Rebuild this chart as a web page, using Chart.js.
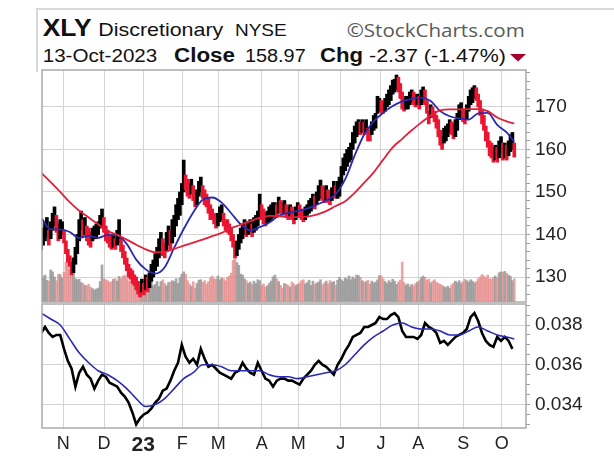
<!DOCTYPE html>
<html><head><meta charset="utf-8">
<script src="https://cdn.jsdelivr.net/npm/chart.js@4.4.0/dist/chart.umd.min.js"></script>
<style>
html,body{margin:0;padding:0;background:#fff;}
#wrap{position:relative;width:614px;height:457px;overflow:hidden;background:#fff;}
#wrap canvas,#wrap svg{position:absolute;left:0;}
svg text{font-family:"Liberation Sans",Arial,sans-serif;fill:#111;font-style:normal;}
</style></head><body>
<div id="wrap">
<svg width="614" height="457" style="top:0">
  <rect x="37" y="8" width="577" height="2" fill="#d9d9d9"/>
  <rect x="36" y="8" width="2" height="64" fill="#d9d9d9"/>
  <text x="42.7" y="35.7" font-weight="bold" font-size="23" textLength="49" lengthAdjust="spacingAndGlyphs">XLY</text>
  <text x="98.3" y="35.7" font-size="18.5" textLength="125" lengthAdjust="spacingAndGlyphs">Discretionary</text>
  <text x="235" y="35.7" font-size="16.5" textLength="51.7" lengthAdjust="spacingAndGlyphs">NYSE</text>
  <text x="346.7" y="36.7" font-size="18.5" style="font-family:'Open Sans',sans-serif;fill:#5a5a5a" textLength="178" lengthAdjust="spacingAndGlyphs">©StockCharts.com</text>
  <text x="42.7" y="62.3" font-size="18" textLength="114.6" lengthAdjust="spacingAndGlyphs">13-Oct-2023</text>
  <text x="174" y="62.3" font-weight="bold" font-size="20" textLength="61" lengthAdjust="spacingAndGlyphs">Close</text>
  <text x="245" y="62.3" font-size="18" textLength="60.7" lengthAdjust="spacingAndGlyphs">158.97</text>
  <text x="320" y="62.3" font-weight="bold" font-size="20" textLength="43" lengthAdjust="spacingAndGlyphs">Chg</text>
  <text x="369" y="62.3" font-size="18" textLength="137" lengthAdjust="spacingAndGlyphs">-2.37 (-1.47%)</text>
  <polygon points="510,54 526,54 518,61.5" fill="#a3002b"/>
</svg>
<canvas id="top" width="614" height="303" style="top:0"></canvas>
<canvas id="bot" width="614" height="154" style="top:303px"></canvas>
</div>
<script>
// ---- DATA (trading-day index 0 = mid Oct 2022 ... 249 = 13 Oct 2023) ----
const monthTicks = [11.6, 33.1, 53.7, 74.3, 93.2, 116.1, 135.3, 157.6, 178.8, 198.5, 222.2, 242.4];
const monthLabels = ['N','D','23','F','M','A','M','J','J','A','S','O'];
const priceMajor = [130, 140, 150, 160, 170];
const ratioMajor = [0.034, 0.036, 0.038];

const lows = [
136.5,137.5,138.5,139.5,137.5,139.0,141.0,142.0,140.5,138.5,
139.0,140.0,138.0,135.5,133.5,132.5,130.5,131.0,133.0,135.5,
138.5,141.0,139.5,140.0,138.5,137.5,137.0,138.5,139.0,139.0,
140.0,141.5,142.0,140.5,138.5,138.0,137.0,136.5,137.0,136.5,
137.5,138.0,136.0,134.5,133.0,131.5,130.0,129.5,128.5,128.0,
127.0,126.0,125.3,126.5,125.8,127.0,126.5,127.5,129.0,130.0,
131.5,132.5,134.5,135.5,135.0,134.5,136.0,137.5,136.5,138.0,
139.5,142.0,143.5,144.5,147.0,150.0,150.5,149.0,148.5,149.5,
148.0,146.5,147.0,149.0,150.0,148.5,147.0,146.5,145.0,143.5,
143.5,142.5,141.5,142.0,143.0,143.5,142.0,141.0,140.5,140.0,
138.5,137.0,134.5,135.0,136.5,138.0,139.0,140.0,139.5,140.0,
140.5,139.5,140.5,141.0,142.0,144.0,143.5,142.5,142.0,142.5,
143.0,143.5,144.0,144.5,144.0,145.0,145.0,144.5,145.0,144.0,
143.5,144.0,143.5,142.5,143.5,144.5,144.0,143.5,143.0,143.5,
144.5,145.0,145.5,146.5,146.0,147.0,148.0,148.5,148.0,147.5,
148.0,147.5,147.0,148.0,149.0,148.5,148.5,149.0,152.0,154.0,
155.0,156.0,157.0,157.5,160.0,161.5,163.0,163.5,163.5,164.0,
163.5,164.0,162.0,162.0,163.5,164.5,165.0,168.5,169.0,168.5,
168.5,169.0,170.0,170.5,171.5,173.0,173.5,174.0,173.5,172.0,
169.5,169.0,169.5,169.5,170.5,171.0,170.5,170.0,170.5,169.5,
170.5,171.0,170.5,168.5,166.0,167.5,167.5,166.5,165.0,163.0,
161.0,160.0,161.5,162.0,163.0,164.0,163.5,162.5,163.0,164.5,
167.0,167.5,166.5,166.0,167.0,169.0,170.5,171.0,172.0,171.5,
170.0,168.0,166.0,164.5,162.0,160.5,158.5,158.0,157.0,157.5,
157.0,158.0,159.0,157.5,158.0,157.5,158.5,159.5,160.0,158.2];

const highs = [
140.5,141.5,143.0,144.0,141.0,143.0,145.0,146.5,144.5,142.5,
143.5,143.0,141.0,138.5,136.5,135.0,133.5,134.5,137.0,140.0,
143.5,145.5,143.5,144.0,142.0,141.5,140.5,141.5,142.0,142.5,
143.0,144.5,146.0,144.0,142.0,141.0,140.0,139.5,140.0,139.0,
141.0,143.5,139.0,137.5,136.0,134.5,133.0,132.0,131.5,130.5,
130.0,129.0,128.0,129.5,128.5,130.5,130.0,131.0,133.0,134.0,
135.5,137.0,139.0,140.5,139.0,138.0,140.5,142.0,141.0,143.5,
144.5,147.0,148.5,150.0,152.0,157.5,154.0,153.0,152.0,153.0,
151.5,150.0,150.5,152.5,153.5,151.5,150.5,149.5,148.5,147.0,
146.0,145.0,144.5,145.0,146.5,147.0,145.0,143.5,143.5,142.5,
141.5,140.0,138.0,138.5,140.0,141.5,142.5,143.5,143.0,143.0,
143.5,142.5,144.0,144.5,145.5,149.5,147.0,146.0,145.0,145.5,
146.5,147.0,147.5,147.5,147.0,148.8,148.0,147.5,148.0,147.0,
146.5,147.0,146.5,145.5,146.5,147.5,147.0,146.0,145.5,146.5,
147.0,148.0,148.5,149.5,149.0,150.0,151.5,152.8,151.5,151.0,
151.5,150.5,150.0,151.0,152.5,151.5,152.5,153.5,156.0,158.0,
159.0,160.0,160.5,161.5,164.0,165.5,166.5,167.0,166.5,167.0,
166.5,167.0,165.0,164.5,166.5,168.0,168.5,172.5,172.0,171.5,
171.0,172.0,173.0,174.0,175.0,176.3,176.5,177.5,177.0,175.5,
173.5,172.0,172.5,172.5,173.5,174.0,173.5,173.0,173.0,172.5,
174.0,174.7,174.0,171.5,169.0,170.5,170.0,169.0,168.0,167.0,
164.5,163.0,165.0,165.5,166.0,167.0,166.5,166.0,167.0,168.5,
170.5,171.0,169.5,169.0,170.5,172.5,174.0,174.5,175.0,174.5,
173.0,171.5,169.5,168.0,165.5,164.0,162.0,161.5,160.5,161.0,
160.5,162.0,163.0,161.5,161.5,161.0,162.0,163.5,164.0,161.5];

// volume, millions of shares
const volumes = [
5.8,5.4,5.8,4.7,4.5,6.9,6.5,5.4,4.6,6.0,
5.9,5.2,6.4,8.6,8.7,7.0,7.2,6.1,5.0,4.8,
4.9,4.2,4.0,3.6,3.5,3.8,3.2,2.9,2.6,2.8,
3.0,4.4,8.0,5.0,4.8,4.6,4.2,4.4,4.9,5.0,
4.5,5.5,5.0,5.6,5.8,5.2,4.6,4.2,3.8,3.4,
3.0,2.8,2.5,3.0,2.4,3.6,4.0,4.8,4.4,3.5,
3.8,4.4,3.3,4.4,4.8,4.0,3.5,4.2,4.3,4.6,
4.4,5.0,4.0,5.2,6.0,6.5,6.0,4.6,3.9,3.4,
4.4,3.0,4.0,4.7,4.8,4.2,4.6,3.9,4.4,5.2,
5.6,5.0,4.9,5.6,4.8,5.2,5.0,4.6,5.3,5.6,
6.2,9.0,9.7,8.5,7.9,6.0,5.8,5.0,4.6,4.0,
4.3,3.8,4.5,4.0,4.8,4.6,3.6,3.9,3.2,3.5,
4.0,4.5,5.4,5.8,5.0,4.4,3.6,3.0,4.0,3.8,
3.6,3.2,4.3,3.9,3.5,3.8,4.1,4.6,4.8,3.9,
4.2,4.7,3.6,4.5,3.8,4.1,4.3,4.8,3.7,4.1,
4.5,3.9,4.6,4.2,4.4,3.6,4.7,5.3,4.8,4.5,
5.2,4.9,5.6,4.8,5.4,5.0,5.8,5.7,5.3,4.6,
4.2,4.4,4.7,3.9,4.5,4.1,4.3,4.8,5.7,5.6,
5.0,4.4,4.0,4.6,4.2,4.9,4.5,3.8,4.3,4.7,
8.6,4.2,3.6,3.9,3.3,3.8,3.5,4.0,4.3,4.6,
5.2,5.6,5.3,4.7,4.9,4.1,4.5,4.8,4.3,4.0,
3.8,3.6,3.3,3.1,3.4,3.0,3.7,4.1,4.5,4.2,
4.6,4.0,4.4,4.9,4.6,4.3,4.8,4.5,4.1,4.4,
5.0,5.4,5.9,5.6,5.2,5.8,5.0,4.9,5.3,5.6,
5.1,6.3,6.5,6.4,6.6,6.2,5.8,5.5,4.6,5.0];

// moving averages read every 5 trading days (last point = last day)
const priceMA20 = [
143.9,141.2,141.2,140.6,139.2,139.7,139.2,139.9,139.8,137.8,
134.1,131.8,130.8,132.3,136.9,141.3,145.2,148.2,148.7,147.5,
145.0,142.4,141.0,141.7,142.8,144.4,145.1,145.5,146.1,147.0,
148.0,149.5,153.0,158.6,163.5,166.6,168.6,170.2,171.3,171.9,
172.2,171.4,169.0,167.8,167.3,167.0,168.5,168.6,165.8,164.0,
161.8];
const priceMA50 = [
154.5,152.3,150.0,147.6,145.6,144.0,142.4,140.8,139.9,138.8,
137.6,136.5,135.8,135.9,136.6,137.4,138.1,138.8,139.6,140.4,
141.5,142.3,143.1,143.9,144.4,144.3,144.1,144.1,144.2,144.7,
145.5,146.7,147.8,149.8,152.2,154.6,157.6,160.5,162.5,164.5,
166.3,168.0,169.2,169.4,169.4,169.5,169.5,169.0,167.5,166.6,
166.1];

// XLY:SPY ratio, read every 2 trading days
const ratio = [
0.0376,0.0379,0.0376,0.0374,0.0375,0.0375,0.0368,0.0362,0.0358,0.0349,
0.0356,0.0359,0.0355,0.0353,0.0348,0.0352,0.0355,0.0354,0.0351,0.0350,
0.0349,0.0346,0.0344,0.0341,0.0336,0.0330,0.0333,0.0335,0.0336,0.0338,
0.0341,0.0343,0.0347,0.0348,0.0352,0.0357,0.0361,0.0370,0.0364,0.0361,
0.0363,0.0360,0.0368,0.0363,0.0359,0.0360,0.0358,0.0356,0.0355,0.0354,
0.0353,0.0356,0.0357,0.0361,0.0358,0.0356,0.0355,0.0361,0.0357,0.0353,
0.0352,0.0349,0.0352,0.0353,0.0353,0.0352,0.0352,0.0351,0.0350,0.0353,
0.0355,0.0357,0.0360,0.0362,0.0360,0.0359,0.0357,0.0355,0.0360,0.0363,
0.0367,0.0370,0.0374,0.0375,0.0376,0.0379,0.0379,0.0380,0.0381,0.0384,
0.0383,0.0383,0.0385,0.0386,0.0384,0.0377,0.0374,0.0374,0.0374,0.0373,
0.0375,0.0381,0.0379,0.0378,0.0376,0.0371,0.0372,0.0370,0.0372,0.0374,
0.0375,0.0376,0.0378,0.0384,0.0386,0.0382,0.0376,0.0372,0.0370,0.0369,
0.0374,0.0372,0.0374,0.0372,0.0368];
// ratio moving average, read every 5 trading days
const ratioMA = [
0.0386,0.0383,0.0380,0.0373,0.0366,0.0361,0.0357,0.0355,0.0352,0.0348,
0.0343,0.0339,0.0340,0.0343,0.0348,0.0353,0.0356,0.0360,0.0360,0.0359,
0.0357,0.0357,0.0357,0.0357,0.0355,0.0354,0.0354,0.0353,0.0354,0.0355,
0.0356,0.0357,0.0360,0.0365,0.0370,0.0374,0.0377,0.0380,0.0381,0.0379,
0.0378,0.0378,0.0377,0.0375,0.0375,0.0377,0.0379,0.0377,0.0375,0.0374,
0.0373];

// ---- BUILD ----
Chart.defaults.font.family = '"Liberation Sans", Arial, sans-serif';
Chart.defaults.color = '#222';
const N = lows.length;
const mids = lows.map((l, i) => (l + highs[i]) / 2);
const up = mids.map((m, i) => i === 0 || m >= mids[i - 1]);
const candleData = lows.map((l, i) => ({x: i, y: [l, highs[i]]}));
const volData = volumes.map((v, i) => ({x: i, y: v}));
const every = (arr, step) => arr.map((v, k) => ({x: Math.min(k * step, N - 1), y: v}));

const framePlugin = {
  id: 'frame',
  afterDraw(chart) {
    const {ctx, chartArea: a} = chart;
    ctx.save();
    ctx.strokeStyle = '#ababab';
    ctx.lineWidth = 1.5;
    ctx.strokeRect(a.left, a.top, a.right - a.left, a.bottom - a.top);
    ctx.restore();
  }
};
const noPad = s => { s.paddingTop = 0; s.paddingBottom = 0; s.paddingLeft = 0; s.paddingRight = 0; };
const monthAxis = (showLabels, h) => ({
  type: 'linear', min: 0.42, max: 255.16, offset: false,
  afterBuildTicks: s => { s.ticks = monthTicks.map(v => ({value: v})); },
  ticks: {
    display: showLabels, autoSkip: false, maxRotation: 0, padding: 5, color: '#222',
    callback: (v, i) => monthLabels[i],
    font: ctx => monthLabels[ctx.index] === '23'
      ? {size: 21, weight: 'bold', family: '"Liberation Sans", Arial, sans-serif'}
      : {size: 18, family: '"Liberation Sans", Arial, sans-serif'}
  },
  grid: {color: '#d4d4d4', lineWidth: 1, drawTicks: false, offset: false},
  border: {display: false},
  afterFit: s => { s.height = h; noPad(s); }
});
const rightAxis = (min, max, buildTicks, isMajor, fmt) => ({
  position: 'right', min: min, max: max,
  afterBuildTicks: s => { s.ticks = buildTicks().map(v => ({value: v})); },
  ticks: {autoSkip: false, padding: 5, color: '#222', font: {size: 19},
          callback: v => isMajor(v) ? fmt(v) : ''},
  grid: {color: ctx => (ctx.tick && isMajor(ctx.tick.value)) ? '#d4d4d4' : 'rgba(0,0,0,0)',
         tickColor: '#a0a0a0', tickLength: 4, drawTicks: true},
  border: {display: false},
  afterFit: s => { s.width = 88; noPad(s); }
});

// Upper panel: price bars, volume, moving averages
new Chart(document.getElementById('top'), {
  type: 'bar',
  data: {datasets: [
    {type: 'line', data: every(priceMA50, 5), borderColor: '#e3203c', borderWidth: 1.8,
     pointRadius: 0, tension: 0.4, cubicInterpolationMode: 'monotone', order: 0, yAxisID: 'y'},
    {type: 'line', data: every(priceMA20, 5), borderColor: '#2a2ab0', borderWidth: 1.8,
     pointRadius: 0, tension: 0.4, cubicInterpolationMode: 'monotone', order: 0, yAxisID: 'y'},
    {type: 'bar', data: candleData, backgroundColor: up.map(u => u ? '#000000' : '#ea1530'),
     barThickness: 3, grouped: false, order: 1, yAxisID: 'y'},
    {type: 'bar', data: volData, backgroundColor: up.map(u => u ? 'rgba(150,150,150,0.85)' : 'rgba(228,135,135,0.75)'),
     barThickness: 2, grouped: false, order: 2, yAxisID: 'yv'}
  ]},
  options: {
    responsive: false, animation: false, devicePixelRatio: 1,
    layout: {padding: {left: 42, top: 70, right: 0, bottom: 1}},
    plugins: {legend: {display: false}, tooltip: {enabled: false}},
    scales: {
      x: monthAxis(false, 0),
      y: rightAxis(124.13, 178.68,
        () => { const t = []; for (let v = 126; v <= 178; v += 2) t.push(v); return t; },
        v => priceMajor.includes(v), v => String(v)),
      yv: {display: false, min: 0, max: 50}
    }
  },
  plugins: [framePlugin]
});

// Lower panel: ratio line and its moving average
const isRatioMajor = v => ratioMajor.some(m => Math.abs(m - v) < 1e-7);
new Chart(document.getElementById('bot'), {
  type: 'line',
  data: {datasets: [
    {data: every(ratioMA, 5), borderColor: '#2a2ab0', borderWidth: 1.6, pointRadius: 0,
     tension: 0.4, cubicInterpolationMode: 'monotone', order: 0},
    {data: every(ratio, 2), borderColor: '#000000', borderWidth: 2.6, pointRadius: 0,
     tension: 0, order: 1}
  ]},
  options: {
    responsive: false, animation: false, devicePixelRatio: 1,
    layout: {padding: {left: 42, top: 1, right: 0, bottom: 0}},
    plugins: {legend: {display: false}, tooltip: {enabled: false}},
    scales: {
      x: monthAxis(true, 29),
      y: rightAxis(0.032818, 0.039057,
        () => { const t = []; for (let k = 330; k <= 390; k += 5) t.push(k / 10000); return t; },
        isRatioMajor, v => v.toFixed(3))
    }
  },
  plugins: [framePlugin]
});
</script>
</body></html>
